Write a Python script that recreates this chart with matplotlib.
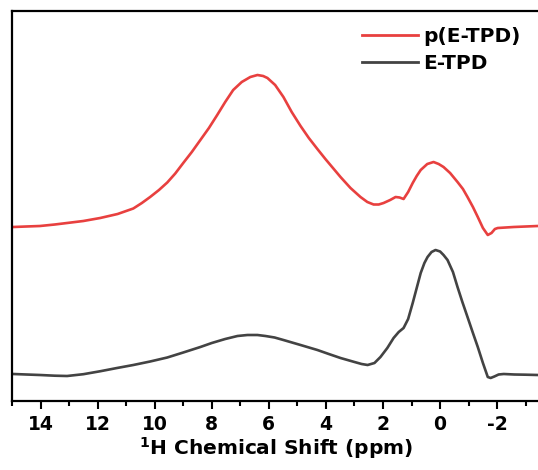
import matplotlib
matplotlib.use("Agg")
import matplotlib.pyplot as plt
from matplotlib.ticker import MultipleLocator

# chemical shift (ppm) and intensities (arbitrary units)
red_ppm = [14.96, 14.5, 14.02, 13.5, 13.07, 12.5, 11.91, 11.3, 10.75, 10.45, 10.16,
           9.85, 9.56, 9.28, 9.00, 8.70, 8.40, 8.10, 7.81, 7.53, 7.25, 6.95, 6.65,
           6.40, 6.20, 6.05, 5.78, 5.49, 5.20, 4.89, 4.60, 4.30, 4.02, 3.74, 3.49,
           3.14, 2.79, 2.55, 2.33, 2.15, 1.98, 1.75, 1.56, 1.42, 1.28, 1.12, 0.96,
           0.82, 0.68, 0.45, 0.23, 0.05, -0.12, -0.35, -0.61, -0.80, -0.96, -1.15,
           -1.32, -1.50, -1.67, -1.80, -1.92, -2.02, -2.30, -2.58, -3.00, -3.42]
red_int = [173, 173.5, 174, 175.5, 177, 179, 182, 186, 191.5, 197, 203,
           210, 217.5, 226.5, 237, 248, 260, 272, 285, 298, 310, 318, 323,
           325, 324, 322, 315, 303, 288, 274, 262, 251, 241, 231.5, 223,
           212, 203, 198, 195.5, 195.5, 197, 200, 203, 202.5, 201, 208, 217,
           224, 230, 236, 238, 236, 233, 227, 218, 211, 203, 193,
           183, 172, 165, 167, 171, 172, 172.5, 173, 173.5, 174]

black_ppm = [14.96, 14.5, 14.02, 13.5, 13.07, 12.5, 11.9, 11.32, 10.75, 10.16, 9.56,
             9.0, 8.40, 8.0, 7.53, 7.1, 6.75, 6.40, 6.12, 5.80, 5.49, 4.89, 4.30,
             3.90, 3.49, 3.0, 2.75, 2.54, 2.30, 2.09, 1.85, 1.63, 1.45, 1.28, 1.12,
             0.96, 0.82, 0.68, 0.55, 0.44, 0.30, 0.16, 0.0, -0.12, -0.26, -0.45,
             -0.61, -0.78, -0.96, -1.15, -1.32, -1.50, -1.67, -1.77, -1.90, -2.05,
             -2.23, -2.60, -3.00, -3.42]
black_int = [26, 25.5, 25, 24.3, 24, 25.8, 28.8, 32, 35, 38.5, 42.5,
             47.5, 53, 57, 61, 64, 65, 65, 64, 62.5, 60, 55, 50,
             46, 42, 38, 36, 35, 37, 43, 52, 62, 68, 72, 81,
             97, 112, 127, 137, 143, 148, 150, 148.5, 145, 140, 128,
             113, 98, 83, 67, 53, 37, 23, 22, 23.5, 25.5,
             26, 25.5, 25.3, 25]

labels = ["p(E-TPD)", "E-TPD"]
x_label = r"$\mathbf{^{1}}$H Chemical Shift (ppm)"
xticks = [14, 12, 10, 8, 6, 4, 2, 0, -2]

plt.rcParams['font.family'] = ['DejaVu Sans']
plt.rcParams['font.weight'] = 'bold'
plt.rcParams['axes.unicode_minus'] = False

fig = plt.figure(figsize=(5.38, 4.70), dpi=100)
ax = fig.add_axes([12/538, 1-401/470, (540-12)/538, (401-11)/470])

ax.plot(red_ppm, red_int, color='#E8403F', lw=1.9, label=labels[0],
        solid_joinstyle='round')
ax.plot(black_ppm, black_int, color='#434343', lw=1.9, label=labels[1],
        solid_joinstyle='round')

ax.set_xlim(15, -3.5)
ax.set_ylim(-1, 389)
ax.set_yticks([])
ax.set_xticks(xticks)
ax.xaxis.set_minor_locator(MultipleLocator(1))
ax.tick_params(axis='x', which='major', direction='out', length=6, width=1.5,
               labelsize=13.5, pad=4)
ax.tick_params(axis='x', which='minor', direction='out', length=3.5, width=1.5)
for lab in ax.get_xticklabels():
    lab.set_fontweight('bold')
for sp in ax.spines.values():
    sp.set_linewidth(1.6)

ax.set_xlabel(x_label, fontsize=14.5, fontweight='bold', labelpad=1)

leg = ax.legend(loc='upper left', bbox_to_anchor=(362/538, 1-27/470),
                bbox_transform=fig.transFigure, frameon=False, borderpad=0,
                borderaxespad=0, handlelength=2.8, handletextpad=0.25,
                labelspacing=0.4, prop={'size': 14.5, 'weight': 'bold'})
for line in leg.get_lines():
    line.set_linewidth(2.0)

fig.savefig("out.png", dpi=100)
